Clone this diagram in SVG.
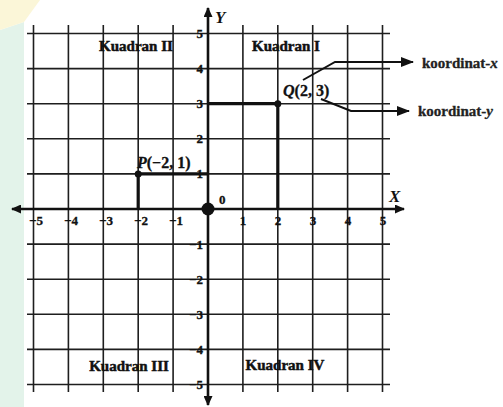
<svg xmlns="http://www.w3.org/2000/svg" width="503" height="407" viewBox="0 0 503 407">
<style>
.grid{stroke:#1e1e1e;stroke-width:1.6;fill:none}
.axis{stroke:#111;stroke-width:2.6;fill:none}
.thick{stroke:#111;stroke-width:3.2;fill:none}
.conn{stroke:#111;stroke-width:2;fill:none}
.num{font-family:"Liberation Serif",serif;font-weight:bold;font-size:13px;fill:#111;stroke:#111;stroke-width:0.3}
.quad{font-family:"Liberation Serif",serif;font-weight:bold;font-size:15px;fill:#111;stroke:#111;stroke-width:0.5;text-anchor:middle}
.pt{font-family:"Liberation Serif",serif;font-weight:bold;font-size:16px;fill:#111;stroke:#111;stroke-width:0.3}
.lbl{font-family:"Liberation Serif",serif;font-weight:bold;font-size:15px;fill:#222;stroke:#222;stroke-width:0.3}
.ax{font-family:"Liberation Serif",serif;font-weight:bold;font-style:italic;font-size:17px;fill:#111}
</style>
<defs>
<marker id="arr" viewBox="0 0 13 10" refX="12" refY="5" markerWidth="13" markerHeight="10" markerUnits="userSpaceOnUse" orient="auto">
<path d="M0,0 L13,5 L0,10 z" fill="#111"/>
</marker>
<marker id="arrA" viewBox="0 0 10 9" refX="9" refY="4.5" markerWidth="10" markerHeight="9" markerUnits="userSpaceOnUse" orient="auto-start-reverse">
<path d="M0,0 L10,4.5 L0,9 z" fill="#111"/>
</marker>
</defs>
<rect width="503" height="407" fill="#fff"/>
<path d="M0,30 L24,22 L24,407 L0,407 z" fill="#e3f3ea"/>
<path d="M0,0 L40,0 L24,22 L0,30 z" fill="#fbf6d8"/>

<g id="grid" class="grid">
<path d="M27,33.5H390M27,68.6H390M27,103.7H390M27,138.8H390M27,173.9H390M27,244.1H390M27,279.2H390M27,314.3H390M27,349.4H390M27,384.5H390"/>
<path d="M33.5,25V392M68.4,25V392M103.3,25V392M138.2,25V392M173.1,25V392M242.9,25V392M277.8,25V392M312.7,25V392M347.6,25V392M382.5,25V392"/>
</g>

<g id="axes">
<line class="axis" x1="12" y1="209" x2="404" y2="209" marker-start="url(#arrA)" marker-end="url(#arrA)"/>
<line class="axis" x1="208" y1="405" x2="208" y2="8" marker-start="url(#arrA)" marker-end="url(#arrA)"/>
<text class="ax" x="389" y="202">X</text>
<text class="ax" x="215" y="23">Y</text>
<circle id="origin" cx="208" cy="209" r="6.5" fill="#111"/>
<text class="num" x="219" y="204">0</text>
</g>

<g id="xlabels" class="num" text-anchor="middle">
<text x="36" y="225">−5</text>
<text x="71" y="225">−4</text>
<text x="106" y="225">−3</text>
<text x="141" y="225">−2</text>
<text x="176" y="225">−1</text>
<text x="243" y="225">1</text>
<text x="278" y="225">2</text>
<text x="313" y="225">3</text>
<text x="348" y="225">4</text>
<text x="383" y="225">5</text>
</g>

<g id="ylabels" class="num" text-anchor="end">
<text x="203" y="38">5</text>
<text x="203" y="73">4</text>
<text x="203" y="108">3</text>
<text x="203" y="143">2</text>
<text x="203" y="178">1</text>
<text x="203" y="248.5">−1</text>
<text x="203" y="283.5">−2</text>
<text x="203" y="318.5">−3</text>
<text x="203" y="353.5">−4</text>
<text x="203" y="389">−5</text>
</g>

<g id="quadrants">
<text class="quad" x="136" y="51">Kuadran II</text>
<text class="quad" x="286" y="51">Kuadran I</text>
<text class="quad" x="129" y="371">Kuadran III</text>
<text class="quad" x="285" y="370">Kuadran IV</text>
</g>

<g id="pointP">
<path class="thick" d="M138.2,209V173.9H208"/>
<circle cx="138.2" cy="173.9" r="3.5" fill="#111"/>
<text class="pt" x="137" y="168"><tspan font-style="italic">P</tspan>(−2, 1)</text>
</g>

<g id="pointQ">
<path class="thick" d="M208,103.7H277.8V209"/>
<circle cx="277.8" cy="103.7" r="3.5" fill="#111"/>
<text class="pt" x="283" y="96"><tspan font-style="italic">Q</tspan>(2, 3)</text>
</g>

<g id="connectors">
<path class="conn" d="M303,80 L335,62 H413" marker-end="url(#arr)"/>
<path class="conn" d="M321,99 L351,111 H409" marker-end="url(#arr)"/>
</g>

<g id="koordinat-x"><text class="lbl" x="422" y="68">koordinat-<tspan font-style="italic">x</tspan></text></g>
<g id="koordinat-y"><text class="lbl" x="418" y="116">koordinat-<tspan font-style="italic">y</tspan></text></g>
</svg>
